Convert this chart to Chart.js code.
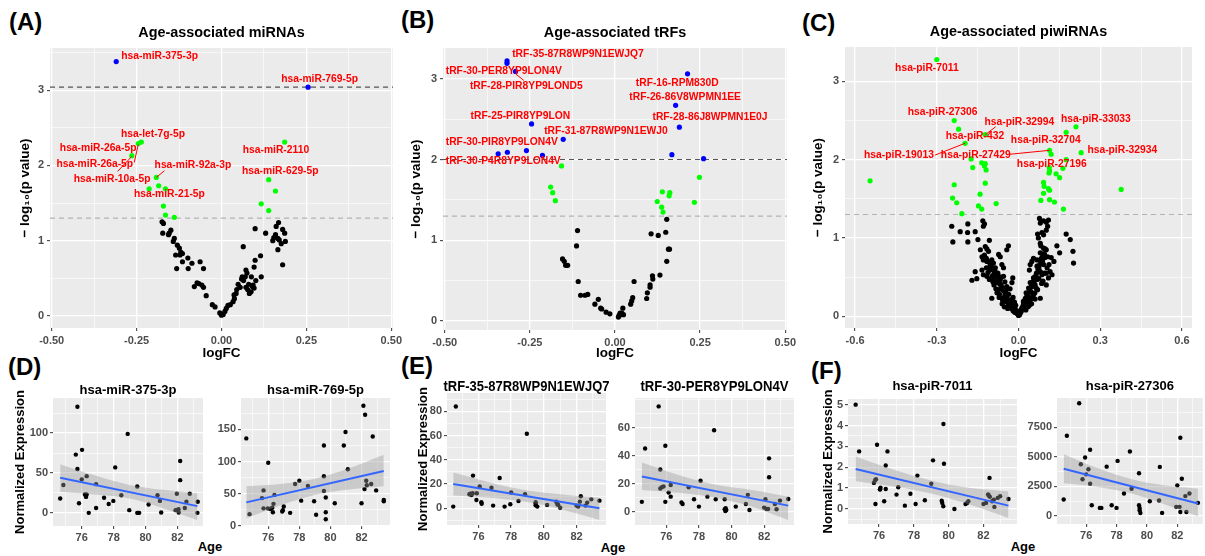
<!DOCTYPE html>
<html>
<head>
<meta charset="utf-8">
<script src="https://cdn.jsdelivr.net/npm/chart.js@4.4.1/dist/chart.umd.min.js"></script>
<style>
  html, body { margin: 0; padding: 0; background: #fff; }
  #fig { position: relative; width: 1205px; height: 556px; overflow: hidden;
         font-family: 'Liberation Sans', Arial, Helvetica, sans-serif; }
  .box { position: absolute; }
  .tag { position: absolute; font-weight: bold; font-size: 24px; line-height: 24px; color: #000; }
  .xt  { position: absolute; font-weight: bold; font-size: 13px; line-height: 14px; color: #000;
         transform: translate(-50%, -50%); white-space: nowrap; }
</style>
</head>
<body>
<div id="fig">
  <div class="tag" style="left:9px;top:10px">(A)</div>
  <div class="tag" style="left:401px;top:8px">(B)</div>
  <div class="tag" style="left:802px;top:11px">(C)</div>
  <div class="tag" style="left:8px;top:355px">(D)</div>
  <div class="tag" style="left:401px;top:354px">(E)</div>
  <div class="tag" style="left:811px;top:359px">(F)</div>
  <div class="xt" style="left:210px;top:547px">Age</div>
  <div class="xt" style="left:613px;top:548px">Age</div>
  <div class="xt" style="left:1023px;top:547px">Age</div>
</div>
<script>
// ---- volcano data: [logFC, -log10 p] -------------------------------------
// A: miRNAs
const A_NS = [
  [-0.175,1.25],[-0.171,1.23],[-0.173,1.10],[-0.154,1.10],[-0.149,1.14],[-0.139,1.03],[-0.142,0.99],
  [-0.156,1.08],[-0.130,0.94],[-0.124,0.90],[-0.120,0.85],[-0.122,0.81],[-0.115,0.83],[-0.135,0.81],
  [-0.115,0.72],[-0.132,0.63],[-0.099,0.77],[-0.087,0.70],[-0.098,0.63],[-0.063,0.72],[-0.053,0.63],
  [-0.080,0.39],[-0.067,0.43],[-0.058,0.41],[-0.053,0.38],[-0.072,0.44],[-0.045,0.27],[-0.027,0.15],
  [-0.019,0.12],[-0.005,0.04],[0.000,0.01],[0.005,0.02],
  [0.010,0.06],[0.014,0.10],[0.019,0.14],[0.026,0.15],[0.034,0.19],[0.038,0.23],[0.037,0.28],
  [0.043,0.30],[0.045,0.35],[0.049,0.42],[0.055,0.38],[0.059,0.49],[0.061,0.52],[0.065,0.47],
  [0.072,0.61],[0.075,0.57],[0.064,0.92],[0.077,0.35],[0.082,0.30],[0.087,0.32],[0.091,0.39],
  [0.093,0.41],[0.096,0.37],[0.101,0.47],[0.080,0.42],[0.072,0.38],[0.070,0.52],[0.088,0.52],
  [0.096,0.65],[0.099,0.74],[0.115,0.80],[0.117,0.52],[0.099,1.16],[0.130,1.10],[0.151,1.00],
  [0.154,1.04],[0.159,1.08],[0.161,1.19],[0.168,1.24],[0.166,1.03],[0.170,1.01],[0.176,0.96],
  [0.166,0.88],[0.180,0.68],[0.186,1.10],[0.188,0.99],[0.180,1.15]
];
const A_NOM = [
  [-0.213,1.69],[-0.185,1.73],[-0.165,1.69],[-0.192,1.84],[-0.171,1.46],[-0.165,1.34],[-0.139,1.31],
  [-0.264,2.13],[-0.245,2.29],[-0.236,2.31],[0.186,2.31],[0.139,1.81],[0.159,1.66],[0.117,1.49],[0.139,1.40]
];
const A_SIG = [[-0.310,3.38],[0.255,3.04]];
const A_LABELS = ['hsa-miR-375-3p','hsa-miR-769-5p','hsa-let-7g-5p','hsa-miR-26a-5p','hsa-miR-26a-5p',
  'hsa-miR-10a-5p','hsa-miR-92a-3p','hsa-miR-21-5p','hsa-miR-2110','hsa-miR-629-5p'];

// B: tRFs
const B_NS = [
  [-0.110,1.12],[-0.113,0.93],[-0.154,0.77],[-0.149,0.74],[-0.145,0.69],[-0.139,0.69],[-0.108,0.49],
  [-0.101,0.32],[-0.088,0.32],[-0.080,0.33],[-0.059,0.21],[-0.049,0.27],[-0.042,0.16],[-0.039,0.15],
  [-0.026,0.11],[-0.015,0.09],[0.010,0.05],[0.017,0.08],[0.020,0.10],[0.023,0.16],[0.025,0.08],
  [0.012,0.07],[0.015,0.10],[0.046,0.21],[0.049,0.25],[0.052,0.29],[0.056,0.49],[0.093,0.28],
  [0.095,0.35],[0.103,0.42],[0.103,0.45],[0.111,0.52],[0.110,0.56],[0.132,0.57],[0.106,1.08],
  [0.127,1.06],[0.149,1.10],[0.152,1.26],[0.157,0.89],[0.160,0.89],[0.152,0.74]
];
const B_NOM = [
  [-0.157,1.92],[-0.189,1.66],[-0.183,1.59],[-0.175,1.49],[0.124,1.48],[0.137,1.41],[0.141,1.35],
  [0.139,1.60],[0.161,1.59],[0.159,1.55],[0.248,1.78],[0.233,1.47]
];
const B_SIG = [
  [-0.317,3.22],[-0.317,3.19],[-0.292,3.09],[-0.245,2.44],[-0.152,2.25],[-0.343,2.07],[-0.316,2.09],
  [-0.260,2.11],[-0.213,2.05],[0.213,3.06],[0.178,2.67],[0.189,2.40],[0.167,2.06],[0.260,2.01]
];
const B_LABELS = ['tRF-35-87R8WP9N1EWJQ7','tRF-30-PER8YP9LON4V','tRF-28-PIR8YP9LOND5','tRF-25-PIR8YP9LON',
  'tRF-31-87R8WP9N1EWJ0','tRF-30-PIR8YP9LON4V','tRF-30-P4R8YP9LON4V','tRF-16-RPM830D',
  'tRF-26-86V8WPMN1EE','tRF-28-86J8WPMN1E0J'];

// C: piwiRNAs
const C_NS = [
  [-0.245,1.15],[-0.241,0.95],[-0.214,1.08],[-0.186,1.18],[-0.187,1.07],[-0.186,0.95],[-0.159,1.08],
  [-0.131,1.22],[-0.129,1.15],[-0.125,1.18],[-0.149,0.98],[-0.107,0.97],[-0.122,0.89],[-0.116,0.86],
  [-0.110,0.83],[-0.037,0.90],[-0.043,0.85],[-0.073,0.79],[-0.067,0.76],[-0.134,0.76],[-0.129,0.72],
  [-0.116,0.70],[-0.098,0.72],[-0.092,0.68],[-0.061,0.66],[-0.055,0.62],[-0.171,0.46],[-0.153,0.48],
  [-0.159,0.57],[-0.134,0.59],[-0.129,0.53],[-0.104,0.59],[-0.116,0.51],[-0.107,0.47],[-0.098,0.50],
  [-0.092,0.45],[-0.079,0.43],[-0.067,0.47],[-0.064,0.40],[-0.055,0.36],[-0.073,0.34],[-0.079,0.30],
  [-0.049,0.30],[-0.043,0.25],[-0.030,0.21],[-0.037,0.15],[-0.024,0.11],[-0.018,0.13],[-0.012,0.09],
  [-0.006,0.04],[0.000,0.01],[-0.021,0.49],[-0.024,0.43],[-0.098,0.23],[-0.061,0.23],[-0.046,0.19],
  [-0.027,0.17],[-0.140,0.85],[-0.055,0.51],[-0.043,0.38],[-0.086,0.57],[-0.073,0.51],
  [-0.085,0.62],[-0.076,0.55],[-0.064,0.50],[-0.050,0.44],[-0.046,0.33],[-0.036,0.28],[-0.031,0.35],
  [-0.020,0.24],[-0.015,0.18],[-0.010,0.14],[-0.008,0.07],[-0.003,0.03],[-0.090,0.40],[-0.070,0.28],
  [-0.058,0.20],[-0.040,0.10],[-0.118,0.62],[-0.100,0.65],[-0.112,0.56],[-0.095,0.52],
  [-0.125,0.78],[-0.118,0.74],[-0.112,0.70],[-0.104,0.66],[-0.096,0.60],[-0.088,0.55],[-0.082,0.50],
  [-0.076,0.46],[-0.068,0.41],[-0.062,0.37],[-0.056,0.33],[-0.050,0.27],[-0.044,0.22],[-0.038,0.18],
  [-0.032,0.14],[-0.026,0.10],[-0.020,0.07],[-0.014,0.05],[-0.108,0.62],[-0.094,0.44],[-0.083,0.35],
  [-0.071,0.24],[-0.060,0.16],[-0.052,0.12],
  [0.077,1.25],[0.080,1.19],[0.092,1.22],[0.102,1.20],[0.110,1.23],[0.070,1.05],[0.073,1.00],
  [0.086,1.07],[0.092,1.04],[0.102,1.10],[0.107,1.15],[0.175,1.05],[0.190,0.98],[0.200,0.83],
  [0.202,0.68],[0.141,0.90],[0.151,0.81],[0.080,0.93],[0.082,0.90],[0.092,0.87],[0.102,0.85],
  [0.080,0.81],[0.095,0.79],[0.107,0.76],[0.084,0.74],[0.068,0.72],[0.055,0.74],[0.049,0.70],
  [0.043,0.66],[0.040,0.59],[0.068,0.64],[0.073,0.59],[0.080,0.57],[0.086,0.53],[0.102,0.55],
  [0.116,0.57],[0.123,0.53],[0.110,0.49],[0.068,0.47],[0.055,0.49],[0.043,0.43],[0.037,0.36],
  [0.028,0.30],[0.025,0.23],[0.018,0.19],[0.033,0.17],[0.043,0.21],[0.053,0.25],[0.061,0.22],
  [0.080,0.23],[0.006,0.04],[0.012,0.09],[0.018,0.13],[0.025,0.13],[0.033,0.28],[0.061,0.40],
  [0.092,0.66],[0.102,0.40],[0.070,0.34],
  [0.010,0.06],[0.015,0.11],[0.021,0.16],[0.030,0.20],[0.036,0.26],[0.046,0.31],[0.050,0.38],
  [0.058,0.45],[0.064,0.52],[0.075,0.62],[0.088,0.70],[0.097,0.75],[0.004,0.02],[0.035,0.12],
  [0.048,0.16],[0.090,0.45],[0.112,0.66],[0.120,0.75],[0.130,0.70],[0.060,0.30],
  [0.098,0.86],[0.094,0.80],[0.088,0.76],[0.083,0.70],[0.078,0.66],[0.072,0.60],[0.066,0.55],
  [0.060,0.50],[0.054,0.44],[0.048,0.40],[0.042,0.34],[0.036,0.30],[0.030,0.25],[0.024,0.20],
  [0.018,0.15],[0.013,0.11],[0.008,0.08],[0.105,0.62],[0.095,0.55],[0.085,0.42],[0.075,0.48],
  [0.065,0.36],[0.056,0.28],[0.046,0.22],[0.040,0.14],[0.027,0.08]
];
const C_NOM = [
  [-0.300,3.28],[-0.545,1.73],[0.377,1.62],[-0.236,2.50],[-0.220,2.39],[-0.196,2.21],[-0.122,2.32],
  [-0.174,2.01],[-0.168,1.90],[-0.135,1.96],[-0.122,1.95],[-0.119,1.87],[-0.125,1.92],[-0.122,1.70],
  [-0.236,1.68],[-0.242,1.51],[-0.227,1.45],[-0.208,1.31],[-0.141,1.56],[-0.147,1.41],[-0.135,1.37],
  [-0.082,1.44],[0.211,2.42],[0.175,2.35],[0.230,2.09],[0.114,2.12],[0.120,2.07],[0.175,2.00],
  [0.163,1.89],[0.138,1.82],[0.151,1.77],[0.113,1.90],[0.114,1.86],[0.112,1.83],[0.092,1.71],
  [0.094,1.66],[0.110,1.63],[0.114,1.61],[0.092,1.57],[0.082,1.48],[0.114,1.49],[0.132,1.46],[0.165,1.37]
];
const C_LABELS = ['hsa-piR-7011','hsa-piR-27306','hsa-piR-32994','hsa-piR-33033','hsa-piR-432',
  'hsa-piR-32704','hsa-piR-32934','hsa-piR-19013','hsa-piR-27429','hsa-piR-27196'];

// ---- expression vs age: [age, normalized expression] ---------------------
const D1_PTS = [
  [74.65,18],[74.85,35],[75.73,133],[75.63,73],[75.73,55],[75.83,12],[76.02,79],[76.0,42],[76.31,46],
  [76.2,23],[76.27,20],[76.31,23],[76.44,0],[76.9,6],[76.9,36],[77.4,19],[77.69,11],[77.98,15],
  [78.1,57],[78.48,22],[78.88,99],[78.98,3.4],[79.48,0],[79.54,0],[79.6,0],[79.48,33],[80.19,10.5],
  [80.75,22],[80.9,15],[80.98,0.4],[81.96,24],[81.88,3.4],[82.06,4.6],[82.17,65],[82.17,41],
  [82.08,0.4],[82.46,6],[82.56,14],[82.77,24],[83.27,14],[83.25,0]
];
const D1_FIT = [[74.65,44],[83.25,8.4]];
const D1_HI = [[74.65,61],[76.8,47],[79.0,35],[81.1,28.8],[83.25,24.4]];
const D1_LO = [[74.65,26.5],[76.8,23],[79.0,18],[81.1,5.8],[83.25,-9.2]];

const D2_PTS = [
  [74.59,136],[74.8,18],[76.0,98],[75.7,55],[75.6,43],[75.7,27],[75.98,27],[76.13,26],[76.26,28],
  [76.34,34],[76.4,48],[76.3,21],[76.94,24],[77.0,30],[76.9,22],[77.41,20],[77.73,65],[78.0,70],
  [78.12,39],[78.55,62],[78.95,38],[79.08,17],[79.58,125],[79.58,77],[79.58,54],[79.7,44],[79.7,21],
  [79.7,10],[80.28,35],[80.86,125],[80.97,146],[81.12,88],[82.0,35],[82.12,187],[82.23,173],
  [82.19,57],[82.3,70],[82.34,63],[82.62,65],[82.72,139],[82.94,55],[83.43,40],[83.43,38]
];
const D2_FIT = [[74.59,36.3],[83.43,85.3]];
const D2_HI = [[74.59,61.6],[76.8,65],[79.0,73],[81.2,89.4],[83.43,110.5]];
const D2_LO = [[74.59,11.6],[76.8,32],[79.0,48],[81.2,56.4],[83.43,61.6]];

const E1_PTS = [
  [74.46,1.4],[74.62,84],[75.5,12],[75.58,11],[75.65,12.5],[75.67,27],[75.45,11.6],[75.9,12.4],
  [76.08,18],[75.88,6.9],[76.18,5],[76.2,3.8],[76.9,2.2],[76.8,17],[77.3,25],[77.6,1.4],[77.95,3.3],
  [78.0,13],[78.45,6],[78.85,11.6],[78.96,61.5],[79.5,2.5],[79.5,4],[79.6,1.4],[79.5,5],[80.2,2.8],
  [80.82,3.6],[80.88,2.8],[81.0,0.5],[80.76,5.5],[82.0,2.2],[82.1,1.4],[82.26,10],[82.2,5.5],
  [82.55,2.2],[82.65,4.7],[82.9,7.4],[83.4,6.3]
];
const E1_FIT = [[74.46,20.1],[83.4,0]];
const E1_HI = [[74.46,29.5],[76.7,21.3],[78.9,14.9],[81.15,11.4],[83.4,8.8]];
const E1_LO = [[74.46,10.5],[76.7,8.7],[78.9,5.3],[81.15,-1.2],[83.4,-9.7]];

const E2_PTS = [
  [74.5,7],[74.7,45],[75.53,75],[75.63,30],[75.63,16.5],[75.73,17.5],[75.83,18],[75.94,47],[75.94,7],
  [76.14,13.6],[76.27,10.7],[76.27,19],[76.93,6.5],[77.0,5.5],[77.37,17.4],[77.7,8.8],[78.0,3.6],
  [78.1,22],[78.52,10.7],[78.93,58],[79.03,8.8],[79.58,8.8],[79.58,1.7],[79.62,0.5],[79.68,1.2],
  [79.64,2.4],[80.26,3.6],[80.88,5.5],[81.0,12],[81.1,1.2],[82.08,8.8],[82.0,2.9],[82.14,1.9],
  [82.24,1.9],[82.3,38],[82.3,24.5],[82.66,5.5],[82.76,1.7],[82.97,7.9],[83.48,9]
];
const E2_FIT = [[74.5,25],[83.48,4.3]];
const E2_HI = [[74.5,35],[76.75,26.2],[79.0,19.4],[81.25,15.5],[83.48,10.7]];
const E2_LO = [[74.5,15.5],[76.75,13.4],[79.0,9.9],[81.25,3.5],[83.48,-6]];

const F1_PTS = [
  [74.65,5.0],[74.85,2.76],[75.77,1.38],[75.82,1.43],[75.7,1.25],[75.88,3.08],[75.79,0.24],[76.05,0.95],
  [76.05,0.93],[76.08,1.02],[76.38,2.08],[76.29,0.37],[76.38,0.96],[76.48,2.76],[77.0,0.69],[77.1,1.04],
  [77.48,0.16],[77.8,0.73],[78.1,0.24],[78.2,1.6],[78.63,0.42],[79.0,1.21],[79.1,2.33],[79.6,0.4],
  [79.63,0.29],[79.69,0.13],[79.7,4.07],[79.73,2.17],[80.33,0.0],[80.97,0.24],[81.06,0.29],[81.13,0.37],
  [82.0,0.24],[82.15,0.29],[82.27,0.7],[82.3,0.64],[82.37,0.58],[82.35,1.49],[82.5,0.37],[82.6,0.45],
  [82.63,0.1],[82.82,0.53],[82.96,0.61],[83.44,0.48]
];
const F1_FIT = [[74.65,1.92],[83.44,0.16]];
const F1_HI = [[74.65,2.52],[76.85,1.88],[79.05,1.35],[81.25,1.0],[83.44,0.85]];
const F1_LO = [[74.65,1.33],[76.85,1.08],[79.05,0.73],[81.25,0.2],[83.44,-0.43]];

const F2_PTS = [
  [74.52,1390],[74.73,6790],[75.54,9540],[75.65,4370],[75.76,3100],[75.93,4940],[76.0,3520],[76.15,3950],
  [76.26,2730],[76.26,5600],[76.37,910],[76.9,680],[77.0,680],[77.35,4170],[77.68,910],[78.0,680],
  [78.07,4660],[78.49,1900],[78.88,5450],[78.99,2300],[79.48,3610],[79.48,910],[79.52,480],[79.57,250],
  [79.52,680],[80.19,1250],[80.85,4150],[80.8,1310],[81.0,260],[82.0,2590],[81.93,770],[82.15,770],
  [82.2,340],[82.3,3150],[82.2,6620],[82.53,1680],[82.6,340],[82.8,1900],[83.36,1110]
];
const F2_FIT = [[74.52,4000],[83.36,1050]];
const F2_HI = [[74.52,5230],[76.73,4060],[78.94,3125],[81.15,2590],[83.36,2300]];
const F2_LO = [[74.52,2760],[76.73,2460],[78.94,1925],[81.15,990],[83.36,-30]];

// ---- tick labels (major breaks) --------------------------------------------
const FC_TICKS = [-0.5, -0.25, 0, 0.25, 0.5];
const FC_TICKS_C = [-0.6, -0.3, 0, 0.3, 0.6];
const P_TICKS = [0, 1, 2, 3];
const AGE_TICKS = [76, 78, 80, 82];
const D1_TICKS = [0, 50, 100];
const D2_TICKS = [0, 50, 100, 150];
const E1_TICKS = [0, 20, 40, 60, 80];
const E2_TICKS = [0, 20, 40, 60];
const F1_TICKS = [0, 1, 2, 3, 4, 5];
const F2_TICKS = [0, 2500, 5000, 7500];

// ---- layout: canvas box [left, top, w, h] and plot rect [l, t, r, b], page px ----
const GEOM = {
  A:  { box: [0, 0, 407, 365],      plot: [50, 48, 393, 328] },
  B:  { box: [395, 0, 405, 365],    plot: [443, 48, 787, 330] },
  C:  { box: [790, 0, 415, 365],    plot: [845, 47, 1192, 328] },
  D1: { box: [0, 372, 214, 184],    plot: [53, 398, 203, 526] },
  D2: { box: [206, 372, 196, 184],  plot: [241, 398, 390, 526] },
  E1: { box: [395, 372, 222, 184],  plot: [447, 393, 606, 525] },
  E2: { box: [608, 372, 197, 184],  plot: [635, 398, 794, 525] },
  F1: { box: [790, 372, 240, 184],  plot: [848, 399, 1017, 524] },
  F2: { box: [1020, 372, 185, 184], plot: [1057, 398, 1205, 524] },
};

// label anchors (left edge, middle) and leader segments, in data units
const A_AT = [[-0.295,3.45],[0.176,3.14],[-0.296,2.41],[-0.476,2.23],[-0.486,2.02],[-0.435,1.82],
  [-0.197,2.0],[-0.258,1.62],[0.0625,2.20],[0.06,1.92]];
const A_LEAD = [[-0.306,1.92,-0.264,2.12],[-0.257,2.04,-0.245,2.28],[-0.192,1.84,-0.168,1.93]];
const B_AT = [[-0.302,3.30],[-0.497,3.09],[-0.426,2.91],[-0.424,2.54],[-0.208,2.35],[-0.497,2.21],
  [-0.497,1.98],[0.061,2.95],[0.042,2.77],[0.110,2.53]];
const B_LEAD = [[-0.292,3.06,-0.268,2.98]];
const C_AT = [[-0.453,3.17],[-0.407,2.61],[-0.125,2.48],[0.156,2.52],[-0.267,2.30],[-0.028,2.25],
  [0.253,2.12],[-0.567,2.06],[-0.285,2.06],[-0.006,1.94]];
const C_LEAD = [[-0.084,2.42,-0.122,2.32],[-0.306,2.06,-0.196,2.21],[-0.031,2.07,0.114,2.12]];

// ---- styling ---------------------------------------------------------------
const FONT = "'Liberation Sans', Arial, Helvetica, sans-serif";
const PANEL_BG = '#EBEBEB';
const TICK_TXT = '#4D4D4D';
Chart.defaults.font.family = FONT;

const EXTRA = {};   // per-canvas decorations: title, hlines, labels

const inList = (v, list) => list.some(t => Math.abs(t - v) < 1e-6);

Chart.register({
  id: 'ggPanel',
  beforeDraw(chart) {
    const a = chart.chartArea, c = chart.ctx;
    c.save();
    c.fillStyle = PANEL_BG;
    c.fillRect(a.left, a.top, a.right - a.left, a.bottom - a.top);
    c.restore();
  },
  beforeDatasetsDraw(chart) {
    const e = EXTRA[chart.canvas.id];
    if (!e || !e.hlines) return;
    const a = chart.chartArea, c = chart.ctx, ys = chart.scales.y;
    c.save();
    c.setLineDash([5, 4]);
    c.lineWidth = 1.2;
    for (const h of e.hlines) {
      const y = ys.getPixelForValue(h.y);
      c.strokeStyle = h.color;
      c.beginPath(); c.moveTo(a.left, y); c.lineTo(a.right, y); c.stroke();
    }
    c.restore();
  },
  afterDatasetsDraw(chart) {
    const e = EXTRA[chart.canvas.id];
    if (!e || !e.labels) return;
    const c = chart.ctx, xs = chart.scales.x, ys = chart.scales.y;
    c.save();
    c.strokeStyle = '#FF0000';
    c.lineWidth = 1;
    for (const [x1, y1, x2, y2] of e.leaders || []) {
      c.beginPath();
      c.moveTo(xs.getPixelForValue(x1), ys.getPixelForValue(y1));
      c.lineTo(xs.getPixelForValue(x2), ys.getPixelForValue(y2));
      c.stroke();
    }
    c.fillStyle = '#FF0000';
    c.font = 'bold 10.3px ' + FONT;
    c.textAlign = 'left';
    c.textBaseline = 'middle';
    e.labels.forEach((t, i) => {
      const [x, y] = e.at[i];
      c.fillText(t, xs.getPixelForValue(x), ys.getPixelForValue(y));
    });
    c.restore();
  },
  afterDraw(chart) {
    const e = EXTRA[chart.canvas.id];
    if (!e || !e.title) return;
    const a = chart.chartArea, c = chart.ctx, t = e.title;
    c.save();
    c.font = `${t.weight} ${t.size}px ${FONT}`;
    c.fillStyle = '#000';
    c.textAlign = 'center';
    c.textBaseline = 'middle';
    if (t.maxW) c.fillText(t.text, (a.left + a.right) / 2, t.y - e.top, t.maxW);
    else c.fillText(t.text, (a.left + a.right) / 2, t.y - e.top);
    c.restore();
  },
});

// major breaks from the tick list, minor breaks halfway between (ggplot style)
function breaks(o) {
  const step = o.ticks[1] - o.ticks[0];
  const out = [];
  for (let v = o.ticks[0] - step; v <= o.ticks[o.ticks.length - 1] + step + 1e-9; v += step / 2) {
    const r = Math.round(v * 1e6) / 1e6;
    if (r >= o.min && r <= o.max) out.push({ value: r });
  }
  return out;
}

function axis(o, fit, isX) {
  const major = c => c.tick && inList(c.tick.value, o.ticks);
  return {
    type: 'linear',
    min: o.min,
    max: o.max,
    afterBuildTicks: s => { s.ticks = breaks(o); },
    afterFit: s => { if (isX) s.height = fit; else s.width = fit; },
    border: { display: false },
    grid: {
      color: '#FFFFFF',
      lineWidth: c => major(c) ? 1.3 : 0.6,
      tickLength: 3,
      tickWidth: 1,
      tickColor: c => major(c) ? '#333333' : 'rgba(0,0,0,0)',
    },
    ticks: {
      autoSkip: false,
      maxRotation: 0,
      padding: o.pad,
      color: TICK_TXT,
      font: { size: 11, weight: 'bold' },
      callback: v => inList(v, o.ticks) ? o.fmt(v) : '',
    },
    title: o.title
      ? { display: true, text: o.title, color: '#000', font: { size: o.tsize, weight: 'bold' },
          padding: isX ? { top: 0, bottom: o.tpad } : { top: o.tpad, bottom: 0 } }
      : { display: false },
  };
}

function build(id, spec) {
  const g = GEOM[id];
  const [bl, bt, bw, bh] = g.box;
  const [pl, pt, pr, pb] = g.plot;
  const holder = document.createElement('div');
  holder.className = 'box';
  Object.assign(holder.style, { left: bl + 'px', top: bt + 'px', width: bw + 'px', height: bh + 'px' });
  const cv = document.createElement('canvas');
  cv.id = id;
  holder.appendChild(cv);
  document.getElementById('fig').appendChild(holder);
  EXTRA[id] = Object.assign({ top: bt }, spec.extra);
  return new Chart(cv, {
    type: 'scatter',
    data: { datasets: spec.datasets },
    options: {
      responsive: true,
      maintainAspectRatio: false,
      animation: false,
      events: [],
      layout: { padding: { left: 0, top: pt - bt, right: bl + bw - pr, bottom: 0 } },
      plugins: { legend: { display: false }, tooltip: { enabled: false } },
      scales: {
        x: axis(spec.x, bt + bh - pb, true),
        y: axis(spec.y, pl - bl, false),
      },
    },
  });
}

const dots = (data, color, r) => ({
  type: 'scatter', data, backgroundColor: color, borderWidth: 0, pointRadius: r, pointHoverRadius: r,
});

function volcanoSets(ns, nom, sig) {
  const sets = [];
  if (sig) sets.push(dots(sig, '#0000FF', 2.6));
  sets.push(dots(nom, '#00FF00', 2.6));
  sets.push(dots(ns, '#000000', 2.6));
  return sets;
}

function trendSets(pts, fit, hi, lo) {
  return [
    { type: 'line', data: fit, borderColor: '#3366FF', borderWidth: 2, pointRadius: 0, fill: false },
    { type: 'line', data: hi, borderWidth: 0, borderColor: 'rgba(0,0,0,0)', pointRadius: 0,
      tension: 0.35, fill: '+1', backgroundColor: 'rgba(153,153,153,0.4)' },
    { type: 'line', data: lo, borderWidth: 0, borderColor: 'rgba(0,0,0,0)', pointRadius: 0,
      tension: 0.35, fill: false },
    dots(pts, '#000000', 2.2),
  ];
}

const yLog = '\u2212 log\u2081\u2080(p value)';
const fmt2 = v => v.toFixed(2);
const fmt1 = v => v.toFixed(1);
const fmtInt = v => String(Math.round(v));
const topTitle = (text, y) => ({ text, y, size: 14.4, weight: 'bold' });

build('A', {
  datasets: volcanoSets(A_NS, A_NOM, A_SIG),
  x: { min: -0.505, max: 0.505, ticks: FC_TICKS, fmt: fmt2, pad: 3, title: 'logFC', tsize: 13.5, tpad: 3.9 },
  y: { min: -0.16, max: 3.56, ticks: P_TICKS, fmt: fmtInt, pad: 3, title: yLog, tsize: 13.5, tpad: 16.9 },
  extra: {
    title: topTitle('Age-associated miRNAs', 33),
    hlines: [{ y: 3.04, color: '#555555' }, { y: 1.3, color: '#B3B3B3' }],
    labels: A_LABELS, at: A_AT, leaders: A_LEAD,
  },
});

build('B', {
  datasets: volcanoSets(B_NS, B_NOM, B_SIG),
  x: { min: -0.505, max: 0.505, ticks: FC_TICKS, fmt: fmt2, pad: 3, title: 'logFC', tsize: 13.5, tpad: 3.9 },
  y: { min: -0.11, max: 3.38, ticks: P_TICKS, fmt: fmtInt, pad: 3, title: yLog, tsize: 13.5, tpad: 13.6 },
  extra: {
    title: topTitle('Age-associated tRFs', 33),
    hlines: [{ y: 2.0, color: '#555555' }, { y: 1.3, color: '#B3B3B3' }],
    labels: B_LABELS, at: B_AT, leaders: B_LEAD,
  },
});

build('C', {
  datasets: volcanoSets(C_NS, C_NOM, null),
  x: { min: -0.637, max: 0.637, ticks: FC_TICKS_C, fmt: fmt1, pad: 3, title: 'logFC', tsize: 13.5, tpad: 3.9 },
  y: { min: -0.15, max: 3.44, ticks: P_TICKS, fmt: fmtInt, pad: 3, title: yLog, tsize: 13.5, tpad: 20.2 },
  extra: {
    title: topTitle('Age-associated piwiRNAs', 32),
    hlines: [{ y: 1.3, color: '#B3B3B3' }],
    labels: C_LABELS, at: C_AT, leaders: C_LEAD,
  },
});

const ageX = (min, max) => ({ min, max, ticks: AGE_TICKS, fmt: fmtInt, pad: 2 });
const subTitle = (text, y) => ({ text, y, size: 13, weight: 'bold' });
const trfTitle = (text, y, maxW) => ({ text, y, size: 14, weight: 'bold', maxW });
const yExpr = 'Normalized Expression';

build('D1', {
  datasets: trendSets(D1_PTS, D1_FIT, D1_HI, D1_LO),
  x: ageX(74.2, 83.6),
  y: { min: -16.5, max: 144, ticks: D1_TICKS, fmt: fmtInt, pad: 2, title: yExpr, tsize: 13, tpad: 12.2 },
  extra: { title: subTitle('hsa-miR-375-3p', 390.5) },
});
build('D2', {
  datasets: trendSets(D2_PTS, D2_FIT, D2_HI, D2_LO),
  x: ageX(74.25, 83.83),
  y: { min: -0.5, max: 199, ticks: D2_TICKS, fmt: fmtInt, pad: 2 },
  extra: { title: subTitle('hsa-miR-769-5p', 390.5) },
});
build('E1', {
  datasets: trendSets(E1_PTS, E1_FIT, E1_HI, E1_LO),
  x: ageX(74.08, 83.8),
  y: { min: -13.8, max: 95.2, ticks: E1_TICKS, fmt: fmtInt, pad: 2, title: yExpr, tsize: 13, tpad: 20.5 },
  extra: { title: trfTitle('tRF-35-87R8WP9N1EWJQ7', 386.7, 166) },
});
build('E2', {
  datasets: trendSets(E2_PTS, E2_FIT, E2_HI, E2_LO),
  x: ageX(74.08, 83.83),
  y: { min: -9.5, max: 81, ticks: E2_TICKS, fmt: fmtInt, pad: 2 },
  extra: { title: trfTitle('tRF-30-PER8YP9LON4V', 386.7, 148) },
});
build('F1', {
  datasets: trendSets(F1_PTS, F1_FIT, F1_HI, F1_LO),
  x: ageX(74.21, 83.93),
  y: { min: -0.72, max: 5.27, ticks: F1_TICKS, fmt: fmtInt, pad: 2, title: yExpr, tsize: 13, tpad: 30.5 },
  extra: { title: subTitle('hsa-piR-7011', 386.7) },
});
build('F2', {
  datasets: trendSets(F2_PTS, F2_FIT, F2_HI, F2_LO),
  x: ageX(74.08, 83.68),
  y: { min: -680, max: 9980, ticks: F2_TICKS, fmt: fmtInt, pad: 2 },
  extra: { title: subTitle('hsa-piR-27306', 386.7) },
});
</script>
</body>
</html>
